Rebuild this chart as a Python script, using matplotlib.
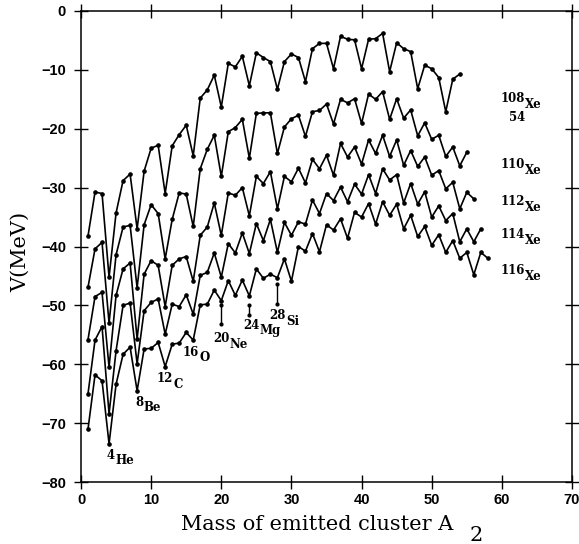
import matplotlib
matplotlib.use("Agg")
import matplotlib.pyplot as plt

# potential V (MeV) against mass of the emitted cluster, one curve per Xe parent
a108 = list(range(1, 55))
v108 = [-38.2, -30.75, -31.0, -45.2, -34.3, -28.8, -27.7, -37.0, -27.2, -23.3,
        -22.8, -31.0, -22.9, -21.0, -19.4, -24.6, -14.8, -13.4, -10.9, -16.3,
        -8.9, -9.5, -7.7, -12.7, -7.1, -7.9, -8.6, -13.3, -8.6, -7.3,
        -7.9, -12.0, -6.4, -5.5, -5.5, -9.8, -4.3, -4.8, -4.9, -9.8,
        -4.8, -4.7, -3.8, -10.3, -5.4, -6.4, -6.9, -13.2, -9.2, -9.8,
        -11.3, -17.1, -11.6, -10.7]

a110 = list(range(1, 56))
v110 = [-46.9, -40.4, -39.3, -53.0, -41.4, -36.7, -36.4, -47.0, -36.3, -32.9,
        -34.4, -42.1, -35.4, -30.9, -31.1, -36.6, -26.8, -23.5, -21.1, -28.1,
        -20.5, -19.8, -18.4, -25.0, -17.4, -17.3, -17.3, -24.2, -19.7, -18.3,
        -17.7, -21.3, -17.1, -16.9, -15.8, -19.2, -15.0, -15.6, -14.9, -19.1,
        -14.1, -15.0, -13.7, -18.4, -14.9, -18.2, -16.8, -21.2, -19.0, -21.8,
        -21.1, -24.7, -23.1, -26.3, -24.0]

a112 = list(range(1, 57))
v112 = [-55.8, -48.5, -47.8, -60.5, -48.3, -43.8, -42.8, -55.7, -44.7, -42.4,
        -43.2, -50.2, -43.2, -42.1, -41.7, -45.9, -38.1, -36.7, -32.6, -38.1,
        -30.9, -31.3, -30.0, -34.8, -28.1, -29.3, -27.3, -33.6, -28.1, -29.0,
        -26.7, -29.2, -25.2, -26.8, -24.5, -27.9, -22.5, -24.8, -23.1, -26.0,
        -21.9, -24.2, -21.1, -24.7, -21.9, -26.2, -23.7, -26.4, -24.8, -27.9,
        -27.1, -30.2, -29.1, -33.6, -30.8, -31.9]

a114 = list(range(1, 58))
v114 = [-65.0, -55.9, -53.6, -68.4, -57.7, -50.0, -49.6, -59.9, -50.9, -49.5,
        -48.9, -54.9, -49.8, -50.2, -48.2, -51.5, -44.9, -44.4, -41.1, -45.2,
        -39.5, -41.1, -37.7, -41.2, -36.1, -39.0, -35.4, -41.0, -35.9, -38.1,
        -35.8, -36.2, -32.1, -34.4, -31.0, -32.2, -29.9, -32.4, -29.4, -31.1,
        -27.8, -31.0, -26.8, -28.7, -27.8, -32.6, -29.3, -32.8, -30.7, -35.0,
        -33.1, -35.6, -34.4, -39.2, -37.0, -39.2, -37.0]

a116 = list(range(1, 59))
v116 = [-71.0, -61.8, -62.8, -73.5, -63.4, -58.3, -57.1, -64.5, -57.4, -57.3,
        -56.3, -60.4, -56.6, -56.4, -54.6, -55.9, -49.9, -49.8, -47.4, -49.2,
        -45.8, -48.3, -45.7, -48.4, -43.8, -45.4, -44.7, -45.3, -42.1, -45.9,
        -40.0, -40.8, -37.8, -40.9, -36.3, -37.2, -35.3, -38.6, -34.2, -35.0,
        -32.7, -36.2, -32.4, -34.7, -32.8, -37.0, -34.7, -38.3, -36.6, -39.8,
        -38.0, -41.0, -39.0, -42.0, -41.0, -44.8, -41.0, -42.0]

# parent labels
parent_mass = ["108", "110", "112", "114", "116"]
parent_y = [-13.8, -25.0, -31.3, -36.9, -42.9]
parent_x = 59.8

# emitted cluster labels (mass, symbol, label position)
clus_mass = ["4", "8", "12", "16", "20", "24", "28"]
clus_sym = ["He", "Be", "C", "O", "Ne", "Mg", "Si"]
clus_x = [3.67, 7.70, 10.84, 14.55, 18.83, 23.11, 26.82]
clus_y = [-74.4, -65.4, -61.4, -56.9, -54.6, -52.3, -50.7]

# little marker sticks under 20Ne, 24Mg, 28Si
stick_a = [20, 24, 28]
stick_top = [-50.0, -50.0, -46.4]
stick_bot = [-53.2, -51.7, -49.8]

fig = plt.figure(figsize=(5.79, 5.44), dpi=100)
ax = fig.add_axes([81 / 579, 62 / 544, 491 / 579, 471 / 544])

for a, v in [(a108, v108), (a110, v110), (a112, v112), (a114, v114), (a116, v116)]:
    ax.plot(a, v, color="black", lw=1.2, marker="o", ms=2.3)

for a, t, b in zip(stick_a, stick_top, stick_bot):
    ax.plot([a, a], [t, b], color="black", lw=1.0, marker="o", ms=2.0)

lab = dict(family="DejaVu Serif", fontweight="bold", fontsize=8.5, color="black")


def nuc_label(x, y, mass, sym, dy=3.8):
    t = ax.text(x, y, mass, ha="left", va="top", **lab)
    ax.annotate(sym, xy=(1, 1), xycoords=t, xytext=(0.3, -dy),
                textcoords="offset points", ha="left", va="top", **lab)
    return t


for m, s, x, y in zip(clus_mass, clus_sym, clus_x, clus_y):
    nuc_label(x, y, m, s)

for m, y in zip(parent_mass, parent_y):
    t = nuc_label(parent_x, y, m, "Xe", dy=4.3)
    if m == "108":
        ax.annotate("54", xy=(1, 0), xycoords=t, xytext=(0, -4.5),
                    textcoords="offset points", ha="right", va="top", **lab)

ax.set_xlim(0, 70)
ax.set_ylim(-80, 0)
ax.set_xticks(range(0, 71, 10))
ax.set_yticks(range(-80, 1, 10))
ax.tick_params(direction="inout", length=9.5, width=1.0, top=True, right=True,
               labelsize=10.5, pad=3.5)
ax.tick_params(axis="y", pad=6)
for lb in ax.get_xticklabels() + ax.get_yticklabels():
    lb.set_family("Liberation Sans")
    lb.set_fontweight("bold")
for sp in ax.spines.values():
    sp.set_linewidth(1.1)

fig.text(317 / 579, 14 / 544, "Mass of emitted cluster A", ha="center",
         va="baseline", family="DejaVu Serif", fontsize=15)
fig.text(470 / 579, 3 / 544, "2", ha="left", va="baseline",
         family="DejaVu Serif", fontsize=15)
fig.text(21 / 579, 1 - 252 / 544, "V(MeV)", rotation=90, ha="center",
         va="center", family="DejaVu Serif", fontsize=15)

fig.savefig("out.png", dpi=100)
